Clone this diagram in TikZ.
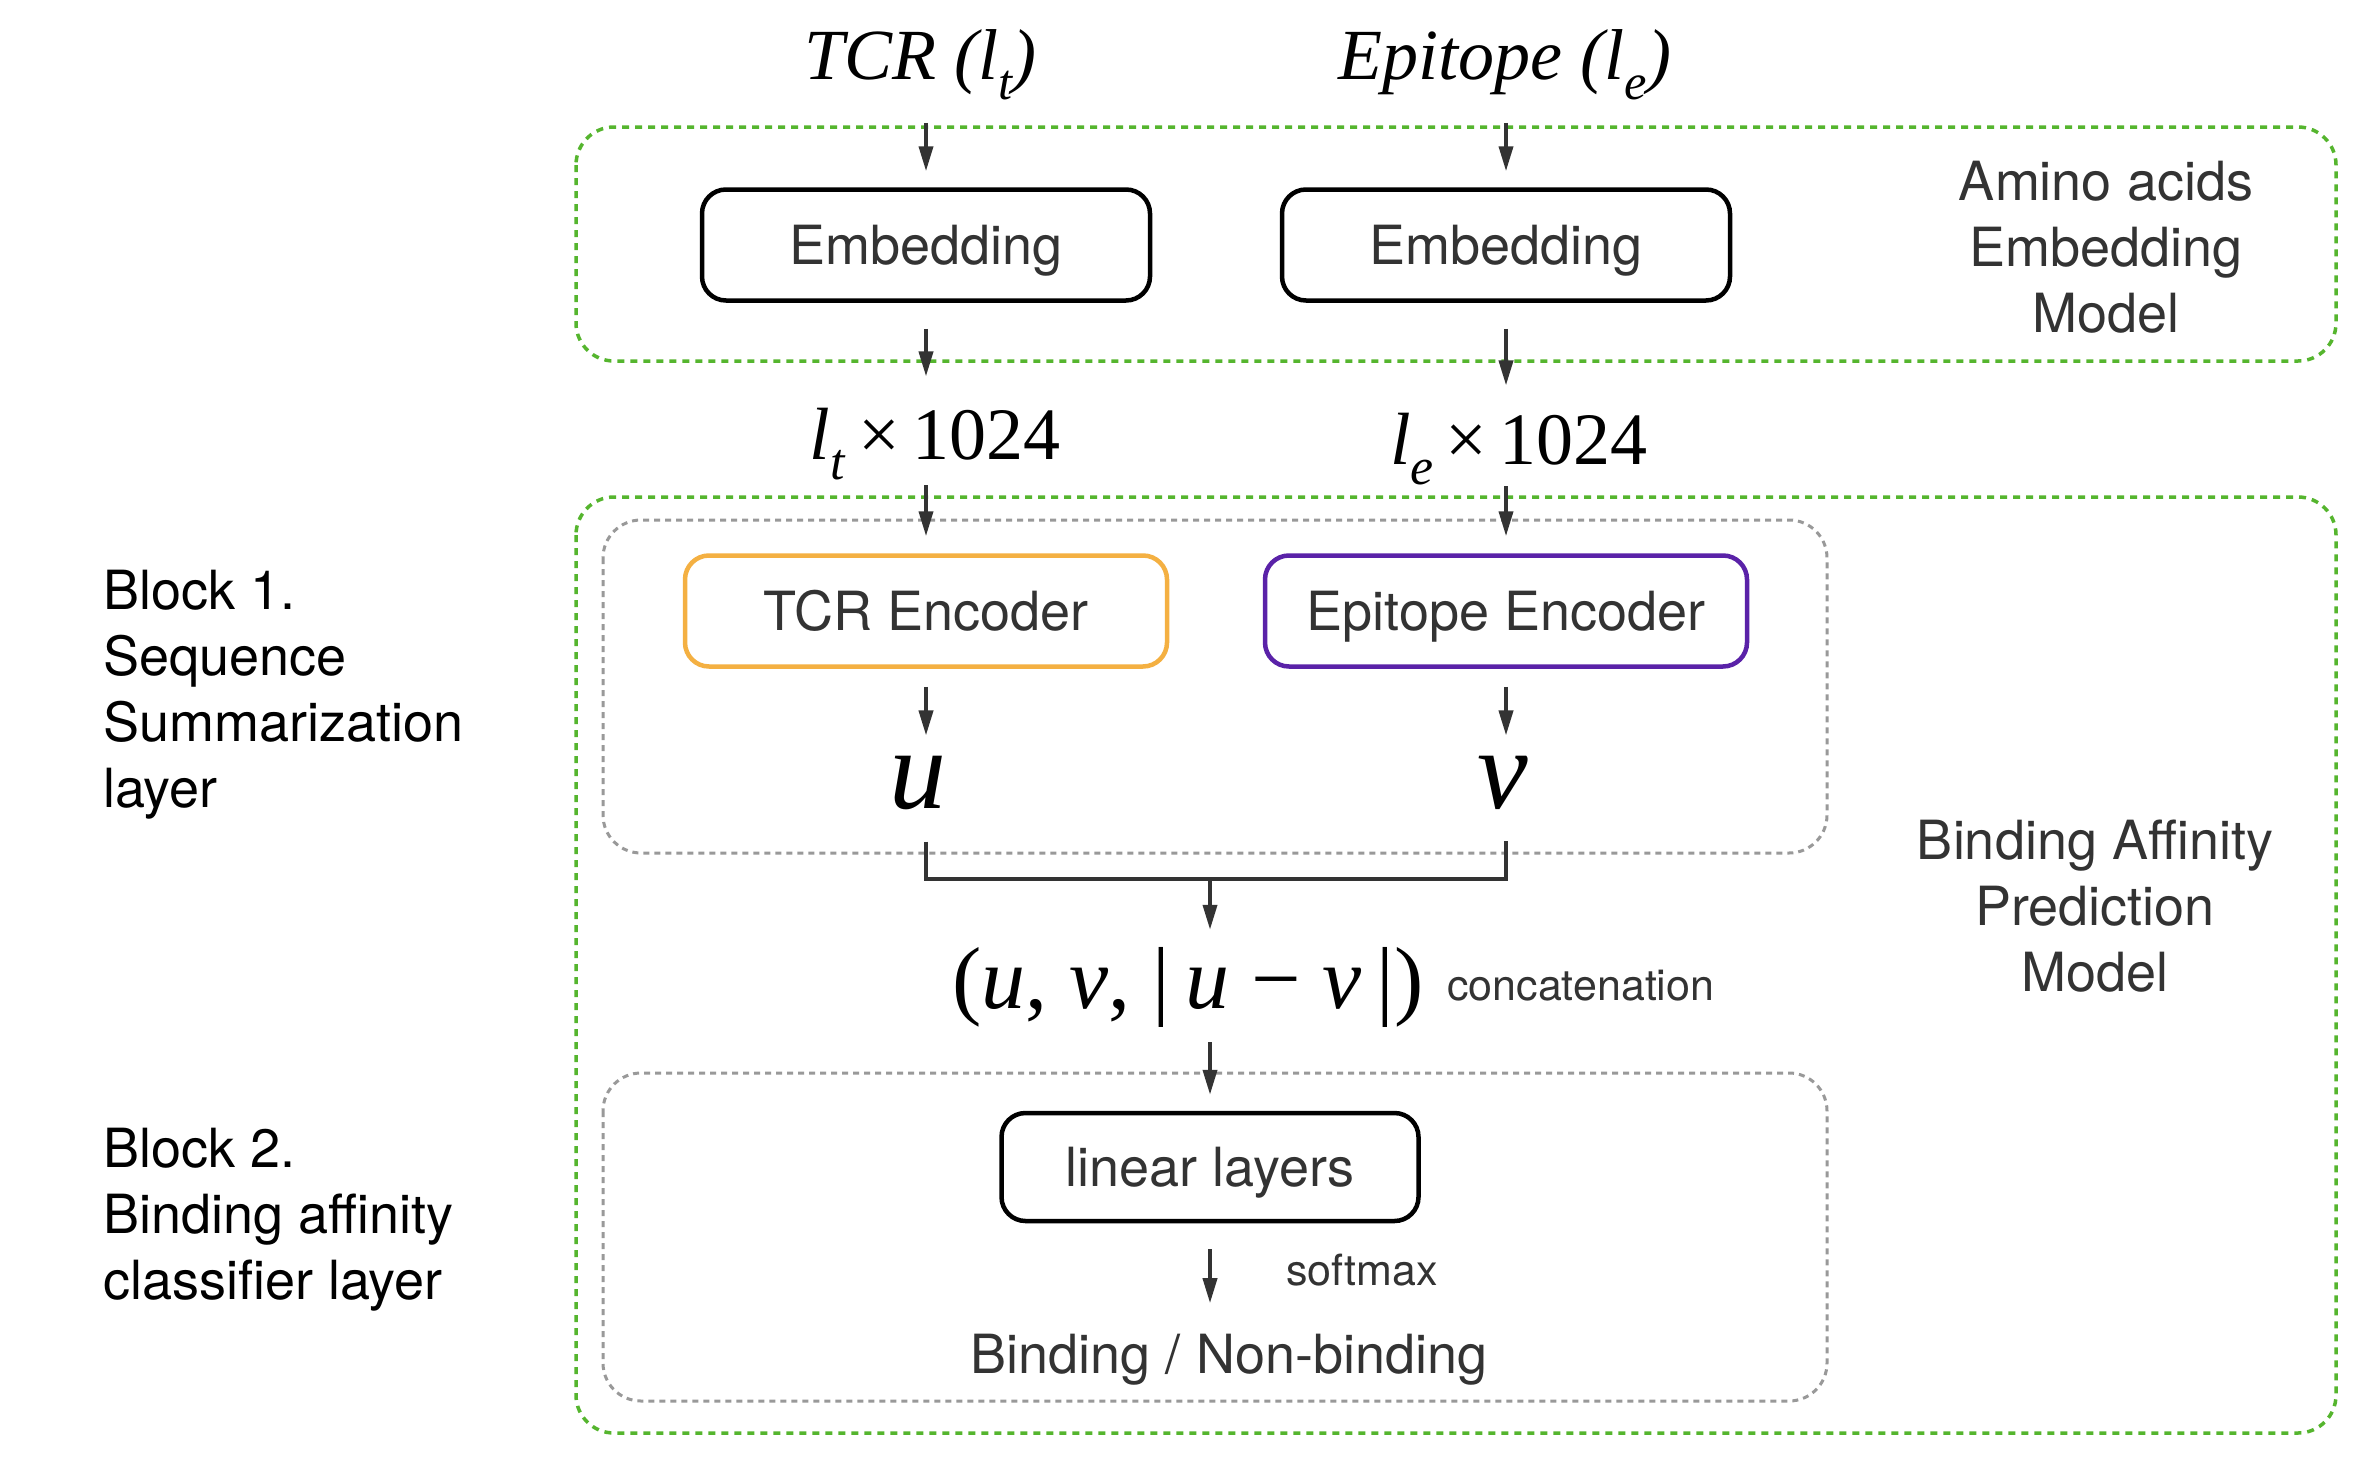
\documentclass[tikz,border=0pt]{standalone}
\usepackage{fontspec}
\setmainfont{TeX Gyre Heros}
\newfontfamily\tms{Liberation Serif}
\usepackage{graphicx}
\usetikzlibrary{arrows.meta}
\definecolor{grn}{HTML}{55B52E}
\definecolor{dgray}{HTML}{333333}
\definecolor{gbox}{HTML}{999999}
\definecolor{orng}{HTML}{F4B042}
\definecolor{purp}{HTML}{5A22A8}
\newcommand\sbs[1]{\raisebox{-0.28em}{\scalebox{0.7}{#1}}}
\begin{document}
\begin{tikzpicture}[x=1pt,y=-1pt,
  lab/.style={font=\fontsize{54}{66}\selectfont, text=dgray, align=center, inner sep=0},
  smalllab/.style={font=\fontsize{43}{50}\selectfont, text=dgray, inner sep=0},
  mth/.style={font=\tms\fontsize{72}{80}\selectfont, inner sep=0, anchor=base},
  blk/.style={draw, line width=4.5pt, rounded corners=24pt, minimum height=111pt, text height=38pt, text depth=0pt, font=\fontsize{54}{66}\selectfont, text=dgray},
  grp/.style={draw=grn, line width=3.5pt, dash pattern=on 7pt off 6pt, rounded corners=38pt},
  gry/.style={draw=gbox, line width=3pt, dash pattern=on 6pt off 5pt, rounded corners=38pt},
  arr/.style={draw=dgray, line width=3.8pt, -{Triangle[length=25pt,width=14pt]}},
  brk/.style={draw=dgray, line width=4pt},
]
\fill[white] (0,0) rectangle (2376,1464);
\useasboundingbox (0,0) rectangle (2376,1464);

% containers
\draw[grp] (576,127) rectangle (2336,361);
\draw[grp] (576,497) rectangle (2336,1433);
\draw[gry] (603,520) rectangle (1827,853);
\draw[gry] (603,1073) rectangle (1827,1401);

% inputs
\node[mth] (tcr) at (920,79) {\itshape TCR (l\sbs{t})};
\node[mth] (epi) at (1505,79) {\itshape Epitope (l\sbs{e})};

% embedding
\node[blk, minimum width=448pt] (emb1) at (926,245) {Embedding};
\node[blk, minimum width=448pt] (emb2) at (1506,245) {Embedding};
\node[lab] (aaem) at (2106,247) {Amino acids\\Embedding\\Model};

\node[mth, font=\tms\fontsize{74}{80}\selectfont] (lt) at (935,459) {\textit{l}\sbs{\textit{t}}\,×\,1024};
\node[mth, font=\tms\fontsize{74}{80}\selectfont] (le) at (1519,464) {\textit{l}\sbs{\textit{e}}\,×\,1024};

% encoders
\node[blk, draw=orng, minimum width=482pt] (tenc) at (926,611) {TCR Encoder};
\node[blk, draw=purp, minimum width=482pt] (eenc) at (1506,611) {Epitope Encoder};

\node[mth, font=\tms\fontsize{114}{120}\selectfont] (u) at (918,808) {\textit{u}};
\node[mth, font=\tms\fontsize{114}{120}\selectfont] (v) at (1503,808) {\textit{v}};

\coordinate (bj) at (1210,879);

\node[mth, font=\tms\fontsize{88}{96}\selectfont] (concat) at (1188,1008) {(\textit{u}, \textit{v}, |\,\textit{u} − \textit{v}\,|)};
\node[smalllab, anchor=west] (cl) at (1447,986) {concatenation};

\node[blk, minimum width=417pt, minimum height=108pt] (lin) at (1210,1167) {linear layers};
\node[smalllab] (sm) at (1362,1270) {softmax};
\node[lab] (out) at (1229,1360) {Binding / Non-binding};

\node[lab, text=black, align=left, anchor=west] (b1) at (103,695) {Block 1.\\Sequence\\Summarization\\layer};
\node[lab, text=black, align=left, anchor=west] (b2) at (103,1220) {Block 2.\\Binding affinity\\classifier layer};
\node[lab] (bapm) at (2095,906) {Binding Affinity\\Prediction\\Model};

% arrows
\draw[arr, shorten <=23pt, shorten >=16pt] (emb1.north |- tcr.south) -- (emb1.north);
\draw[arr, shorten <=23pt, shorten >=16pt] (emb2.north |- epi.south) -- (emb2.north);
\draw[arr, shorten <=26pt, shorten >=31pt] (emb1.south) -- (emb1.south |- lt.north);
\draw[arr, shorten <=26pt, shorten >=27pt] (emb2.south) -- (emb2.south |- le.north);
\draw[arr, shorten <=5pt, shorten >=17pt] (tenc.north |- lt.south) -- (tenc.north);
\draw[arr, shorten <=1pt, shorten >=17pt] (eenc.north |- le.south) -- (eenc.north);
\draw[arr, shorten <=18pt, shorten >=20pt] (tenc.south) -- (tenc.south |- u.north);
\draw[arr, shorten <=18pt, shorten >=20pt] (eenc.south) -- (eenc.south |- v.north);
\draw[brk, shorten <=32pt, shorten >=32pt] (tenc.south |- u.south) -- (tenc.south |- bj) -- (eenc.south |- bj) -- (eenc.south |- v.south);
\draw[arr, shorten >=17pt] (bj) -- (bj |- concat.north);
\draw[arr, shorten <=15pt, shorten >=16pt] (lin.north |- concat.south) -- (lin.north);
\draw[arr, shorten <=26pt, shorten >=31pt] (lin.south) -- (lin.south |- out.north);
\end{tikzpicture}
\end{document}
